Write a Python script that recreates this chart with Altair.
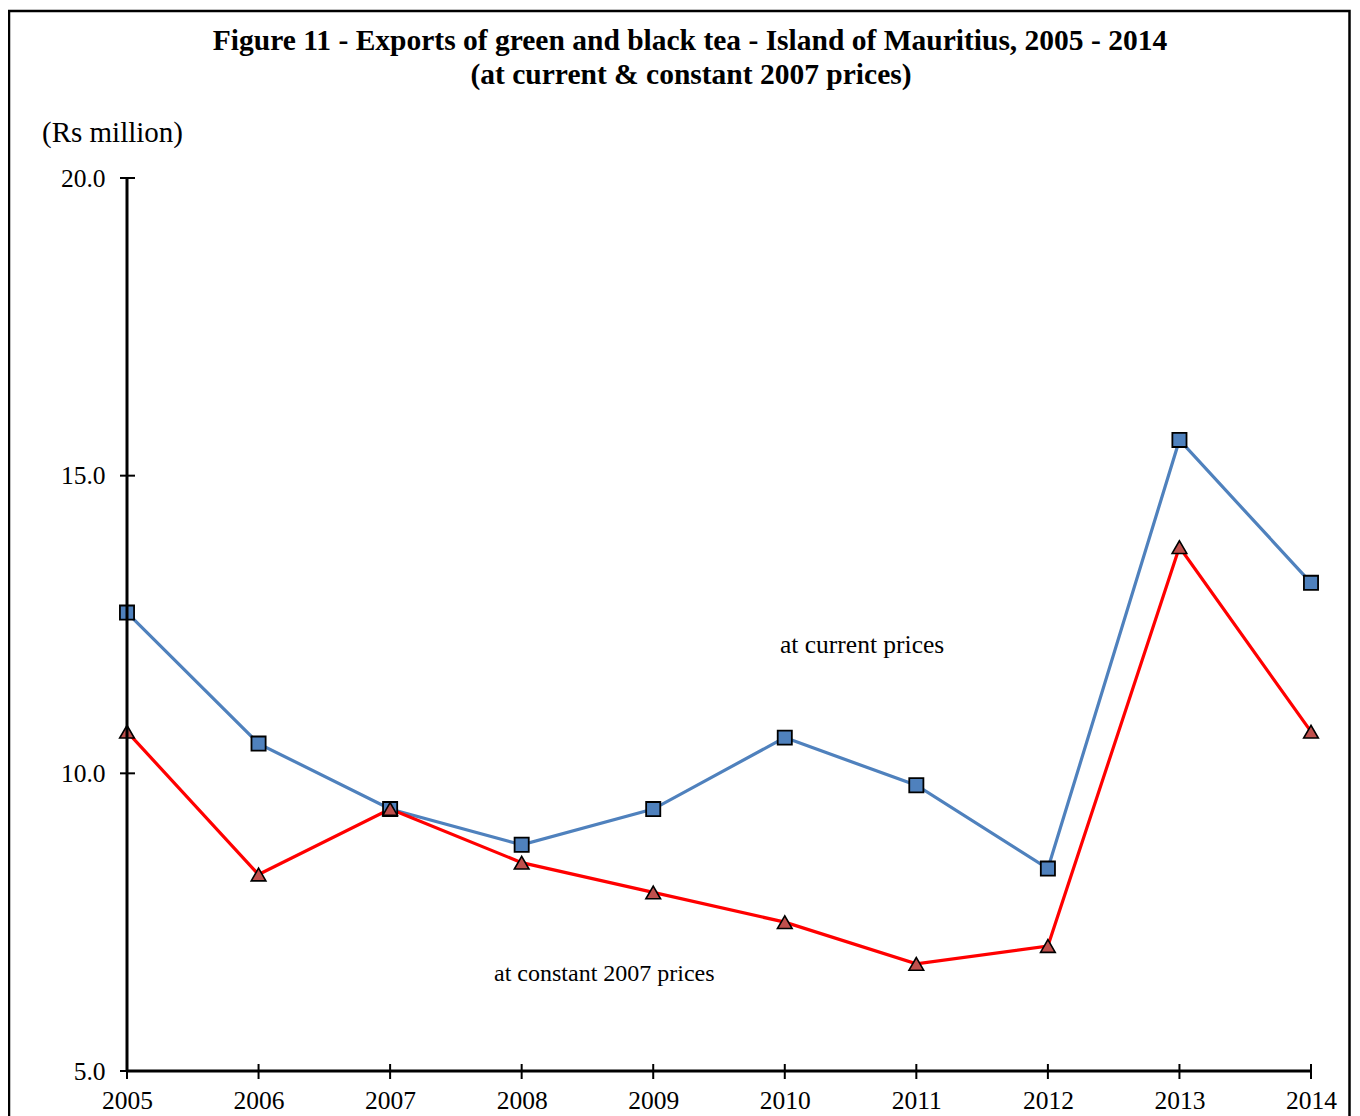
import altair as alt
import pandas as pd

years = [2005, 2006, 2007, 2008, 2009, 2010, 2011, 2012, 2013, 2014]
current_prices = [12.7, 10.5, 9.4, 8.8, 9.4, 10.6, 9.8, 8.4, 15.6, 13.2]
constant_prices = [10.7, 8.3, 9.4, 8.5, 8.0, 7.5, 6.8, 7.1, 13.8, 10.7]
y_ticks = [5.0, 10.0, 15.0, 20.0]

title_lines = ["Figure 11 - Exports of green and  black tea - Island of Mauritius, 2005 - 2014",
               "(at current & constant 2007 prices)"]
unit_label = "(Rs million)"
series_labels = ["at current prices", "at constant 2007 prices"]

W, H = 1184, 893
SERIF = "Liberation Serif"

df = pd.DataFrame({
    "year": years * 2,
    "value": current_prices + constant_prices,
    "series": [series_labels[0]] * len(years) + [series_labels[1]] * len(years),
})
df_cur = df[df.series == series_labels[0]]
df_con = df[df.series == series_labels[1]]

xs = alt.Scale(domain=[2005, 2014], nice=False, zero=False)
ys = alt.Scale(domain=[5, 20], nice=False, zero=False)

one = pd.DataFrame({"k": [0]})

x_axis = alt.Axis(values=years, format="d", domain=False, ticks=False, grid=False,
                  labelFont=SERIF, labelFontSize=25.5, labelColor="black",
                  labelPadding=17, labelFlush=False, title=None)
y_axis = alt.Axis(values=y_ticks, format=".1f", domain=False, ticks=False, grid=False,
                  labelFont=SERIF, labelFontSize=25.5, labelColor="black",
                  labelPadding=22, labelFlush=False, title=None)
ex = alt.X("year:Q", scale=xs, axis=x_axis)
ey = alt.Y("value:Q", scale=ys, axis=y_axis)

line_cur = alt.Chart(df_cur).mark_line(color="#4F81BD", strokeWidth=3.2).encode(x=ex, y=ey)
line_con = alt.Chart(df_con).mark_line(color="#FF0000", strokeWidth=3.2).encode(x=ex, y=ey)
pts_cur = alt.Chart(df_cur).mark_point(shape="square", filled=True, fill="#4F81BD", stroke="black",
                                       strokeWidth=1.8, size=200, opacity=1).encode(x=ex, y=ey)
pts_con = alt.Chart(df_con).mark_point(shape="triangle-up", filled=True, fill="#C0504D", stroke="black",
                                       strokeWidth=1.6, size=215, opacity=1).encode(x=ex, y=ey)

yaxis_line = alt.Chart(one).mark_rule(color="black", strokeWidth=3).encode(
    x=alt.value(0), y=alt.value(0), y2=alt.value(H + 1))
xaxis_line = alt.Chart(one).mark_rule(color="black", strokeWidth=3).encode(
    y=alt.value(H), x=alt.value(-1), x2=alt.value(W + 1))

ytick_df = pd.DataFrame({"value": y_ticks})
yticks = alt.Chart(ytick_df).mark_rule(color="black", strokeWidth=2).encode(
    y=ey, x=alt.value(-7), x2=alt.value(8))
xtick_df = pd.DataFrame({"year": years})
xticks = alt.Chart(xtick_df).mark_rule(color="black", strokeWidth=2).encode(
    x=ex, y=alt.value(H - 7), y2=alt.value(H + 8))

border = alt.Chart(one).mark_rect(fill=None, stroke="black", strokeWidth=2.5).encode(
    x=alt.value(-118), x2=alt.value(1222.5), y=alt.value(-167), y2=alt.value(H + 120))

title1 = alt.Chart(one).mark_text(text=title_lines[0], font=SERIF, fontSize=29.5, fontWeight="bold",
                                  align="center", baseline="alphabetic", color="black").encode(
    x=alt.value(563), y=alt.value(50 - 178))
title2 = alt.Chart(one).mark_text(text=title_lines[1], font=SERIF, fontSize=29.5, fontWeight="bold",
                                  align="center", baseline="alphabetic", color="black").encode(
    x=alt.value(564), y=alt.value(84 - 178))
unit = alt.Chart(one).mark_text(text=unit_label, font=SERIF, fontSize=29, align="left",
                                baseline="alphabetic", color="black").encode(
    x=alt.value(42 - 127), y=alt.value(142 - 178))
lab_cur = alt.Chart(one).mark_text(text=series_labels[0], font=SERIF, fontSize=25.5, align="left",
                                   baseline="alphabetic", color="black").encode(
    x=alt.value(780 - 127), y=alt.value(653 - 178))
lab_con = alt.Chart(one).mark_text(text=series_labels[1], font=SERIF, fontSize=24, align="left",
                                   baseline="alphabetic", color="black").encode(
    x=alt.value(494 - 127), y=alt.value(981 - 178))

chart = alt.layer(
    line_cur, line_con, pts_cur, pts_con,
    yaxis_line, xaxis_line, yticks, xticks,
    border, title1, title2, unit, lab_cur, lab_con,
).properties(
    width=W, height=H,
    background="white",
    padding={"left": 119, "top": 170, "right": 41, "bottom": 50},
    autosize=alt.AutoSizeParams(type="none"),
).configure_view(stroke=None, strokeWidth=0, strokeOpacity=0
).configure_axis(grid=False, domain=False, ticks=False)

chart.save("out.html", embed_options={"renderer": "svg", "actions": False})
